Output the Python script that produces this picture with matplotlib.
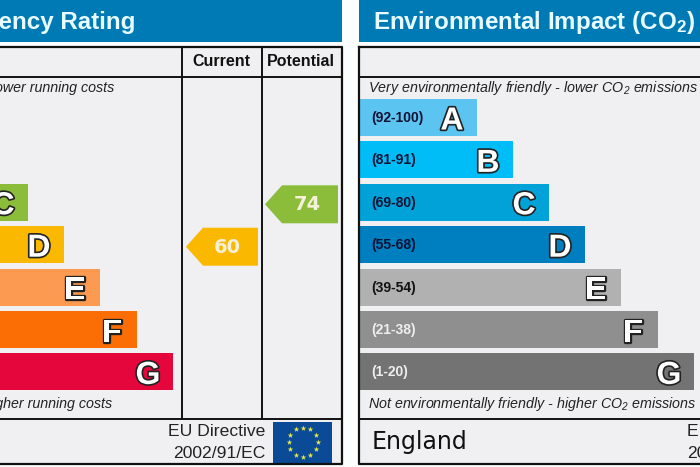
import matplotlib
matplotlib.use("Agg")
import matplotlib.pyplot as plt
import matplotlib.patheffects as pe
from matplotlib.patches import Polygon, Rectangle
import numpy as np

plt.rcParams["font.family"] = ["Liberation Sans", "DejaVu Sans"]
plt.rcParams["mathtext.fontset"] = "custom"
plt.rcParams["mathtext.rm"] = "Liberation Sans"
plt.rcParams["mathtext.default"] = "regular"

# rating bands, same for both panels
letters = ["A", "B", "C", "D", "E", "F", "G"]
ranges = ["(92-100)", "(81-91)", "(69-80)", "(55-68)", "(39-54)", "(21-38)", "(1-20)"]
bar_lengths = [117, 153, 189, 225, 261, 298, 334]
range_colors = ["#111133", "#111133", "#111133", "#111133", "#111111", "#eeeeee", "#eeeeee"]

energy_colors = ["#00a050", "#2fb24a", "#8cbd3a", "#fbb800", "#fb9a50", "#fb6e05", "#e5063c"]
env_colors = ["#5bc4f0", "#00bdf7", "#00a2d8", "#007fc0", "#b1b1b1", "#8f8f8f", "#737373"]

# ratings shown in the arrows, with the row they sit on
current_value = 60
current_row = 3
potential_value = 74
potential_row = 2

BLUE = "#007ab5"
PANEL = "#f0f0f2"

fig = plt.figure(figsize=(7, 4.67), dpi=100, facecolor="#fcfdfd")
ax = fig.add_axes([0, 0, 1, 1])
ax.set_xlim(0, 700)
ax.set_ylim(467, 0)
ax.axis("off")

row_y = np.arange(len(letters)) * 42.4 + 117.5
row_h = 37


def outline_letter(x, y, s):
    t = ax.text(x, y, s, color="white", fontsize=23, fontweight="bold", ha="center", va="center_baseline",
                zorder=5)
    t.set_path_effects([pe.withStroke(linewidth=2.4, foreground="#222222")])


def draw_panel(x0, x1, title, title_x, title_ha, colors, bar_x):
    ax.add_patch(Rectangle((x0, 0), x1 - x0, 42, fc=BLUE, ec="none", zorder=1))
    ax.add_patch(Rectangle((x0, 47), x1 - x0, 417, fc=PANEL, ec="none", zorder=1))
    ax.text(title_x, 22, title, color="#e8fbff", fontsize=17.4, fontweight="bold",
            ha=title_ha, va="center", zorder=3)
    # frame
    ax.plot([x0, x1, x1, x0, x0], [47, 47, 464, 464, 47], color="#111111", lw=1.6, zorder=4)
    ax.plot([x0, x1], [77, 77], color="#111111", lw=1.4, zorder=4)
    ax.plot([x0, x1], [418.5, 418.5], color="#111111", lw=1.4, zorder=4)
    ax.barh(row_y, bar_lengths, height=row_h, left=bar_x, color=colors, zorder=2)
    for i, s in enumerate(letters):
        # bars that end left of the picture have no visible letter
        if bar_x + bar_lengths[i] > 0:
            outline_letter(bar_x + bar_lengths[i] - 25, row_y[i] + 0.5, s)


# left panel, cut off by the edge of the picture
draw_panel(-30, 342, "Energy Efficiency Rating", 135, "right", energy_colors, -161)
ax.plot([181.5, 181.5], [47, 418], color="#111111", lw=1.4, zorder=4)
ax.plot([262, 262], [47, 418], color="#111111", lw=1.4, zorder=4)
ax.text(221, 61.5, "Current", fontsize=11.5, fontweight="bold", color="#111111", ha="center", va="center", zorder=5)
ax.text(301, 61.5, "Potential", fontsize=11.5, fontweight="bold", color="#111111", ha="center", va="center", zorder=5)
ax.text(114, 88, "Very energy efficient - lower running costs", fontsize=10.3, style="italic", color="#222222",
        ha="right", va="center", zorder=5)
ax.text(112, 404, "Not energy efficient - higher running costs", fontsize=10.3, style="italic", color="#222222",
        ha="right", va="center", zorder=5)
ax.text(265, 432, "EU Directive", fontsize=12.6, color="#222222", ha="right", va="center", zorder=5)
ax.text(265, 453, "2002/91/EC", fontsize=12.6, color="#222222", ha="right", va="center", zorder=5)


def arrow(x_tip, x_end, y, value, color):
    h = 19
    pts = [(x_tip, y), (x_tip + 17, y - h), (x_end, y - h), (x_end, y + h), (x_tip + 17, y + h)]
    ax.add_patch(Polygon(pts, closed=True, fc=color, ec="none", zorder=3))
    ax.text((x_tip + 17 + x_end) / 2 - 3, y + 0.5, str(value), color="#f4f1d8", fontsize=14, fontweight="bold",
            family="DejaVu Sans", ha="center", va="center", zorder=5)


arrow(186, 258, row_y[current_row] + 2, current_value, energy_colors[current_row])
arrow(265, 338, row_y[potential_row] + 2, potential_value, energy_colors[potential_row])

# EU flag
ax.add_patch(Rectangle((273, 422), 59, 41, fc="#0a4a96", ec="none", zorder=3))
angles = np.deg2rad(np.arange(0, 360, 30))
ax.scatter(303 + 14.5 * np.cos(angles), 442 + 14.5 * np.sin(angles), marker="*", s=18, color="#e6e84a",
           linewidths=0, zorder=5)

# right panel
draw_panel(359, 730, "Environmental Impact (CO$_2$)", 373, "left", env_colors, 360)
ax.text(368, 88, "Very environmentally friendly - lower CO$_2$ emissions", fontsize=10.3, style="italic",
        color="#222222", ha="left", va="center", zorder=5)
ax.text(368, 404, "Not environmentally friendly - higher CO$_2$ emissions", fontsize=10.3, style="italic",
        color="#222222", ha="left", va="center", zorder=5)
for i, s in enumerate(ranges):
    ax.text(371, row_y[i] + 0.5, s, fontsize=10, fontweight="bold", color=range_colors[i], ha="left", va="center", zorder=5)
ax.text(372, 442, "England", fontsize=17, family="DejaVu Sans", color="#111111", ha="left", va="center", zorder=5)
ax.text(687, 432, "EU Directive", fontsize=12.6, color="#222222", ha="left", va="center", zorder=5)
ax.text(687, 453, "2002/91/EC", fontsize=12.6, color="#222222", ha="left", va="center", zorder=5)

fig.savefig("out.png", dpi=100)
